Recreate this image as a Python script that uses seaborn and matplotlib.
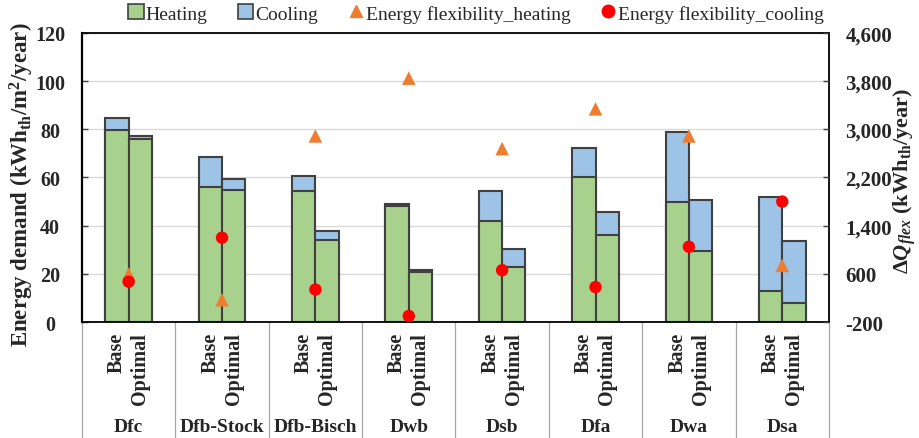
import numpy as np
import pandas as pd
import matplotlib
matplotlib.use("Agg")
import matplotlib.pyplot as plt
from matplotlib.patches import Patch
from matplotlib.lines import Line2D
from matplotlib.ticker import FuncFormatter, FixedLocator
import seaborn as sns

# ---- data -------------------------------------------------------------
groups = ["Dfc", "Dfb-Stock", "Dfb-Bisch", "Dwb", "Dsb", "Dfa", "Dwa", "Dsa"]
scenarios = ["Base", "Optimal"]

heat_base = [79.8, 56.0, 54.5, 48.3, 42.0, 60.0, 49.7, 12.9]
cool_base = [4.8, 12.7, 6.2, 0.5, 12.2, 12.1, 29.3, 39.1]
heat_opt = [75.9, 55.0, 34.2, 20.8, 22.7, 36.1, 29.3, 7.7]
cool_opt = [1.5, 4.2, 3.5, 0.9, 7.6, 9.5, 21.5, 26.0]

flex_heating = [600, 170, 2890, 3850, 2680, 3340, 2890, 740]
flex_cooling = [470, 1200, 340, -100, 660, 380, 1050, 1800]

left_ticks = [0, 20, 40, 60, 80, 100, 120]
right_ticks = [-200, 600, 1400, 2200, 3000, 3800, 4600]

# ---- styling ----------------------------------------------------------
sns.set_theme(style="white")
plt.rcParams["font.family"] = ["Liberation Serif", "DejaVu Serif"]
plt.rcParams["mathtext.fontset"] = "custom"
plt.rcParams["mathtext.rm"] = "Liberation Serif"
plt.rcParams["mathtext.bf"] = "Liberation Serif:bold"
plt.rcParams["mathtext.it"] = "Liberation Serif:italic"
plt.rcParams["mathtext.bfit"] = "Liberation Serif:italic:bold"

GREEN = "#A9D18E"
BLUE = "#9DC3E6"
ORANGE = "#ED7D31"
RED = "#FF0000"
EDGE = "#404040"

df = pd.DataFrame({
    "group": groups * 2,
    "scenario": ["Base"] * len(groups) + ["Optimal"] * len(groups),
    "heating": heat_base + heat_opt,
    "cooling": cool_base + cool_opt,
})
df["total"] = df["heating"] + df["cooling"]

fig = plt.figure(figsize=(9.19, 4.39), dpi=100)
ax = fig.add_axes([0.0892, 0.2642, 0.902 - 0.0892, 0.9226 - 0.2642])

bar_kw = dict(data=df, x="group", hue="scenario", order=groups,
              hue_order=scenarios, width=0.5, gap=0, dodge=True,
              edgecolor=EDGE, linewidth=1.5, legend=False, ax=ax,
              errorbar=None, saturation=1)
# stacked: full height in blue, heating drawn on top in green
sns.barplot(y="total", palette=[BLUE, BLUE], **bar_kw)
sns.barplot(y="heating", palette=[GREEN, GREEN], **bar_kw)

ax.set_xlim(-0.5, len(groups) - 0.5)
ax.set_ylim(0, 120)
ax.yaxis.set_major_locator(FixedLocator(left_ticks))
ax.grid(axis="y", color="#D9D9D9", linewidth=1.0)
ax.set_axisbelow(True)

for s in ax.spines.values():
    s.set_color("black")
    s.set_linewidth(1.3)
ax.spines["left"].set_linewidth(1.6)

# bar-level labels and group separators on the category axis
pos = np.arange(len(groups))
bar_pos = np.sort(np.concatenate([pos - 0.125, pos + 0.125]))
ax.set_xticks(bar_pos)
ax.set_xticklabels(scenarios * len(groups), rotation=90, fontweight="bold",
                   fontsize=14.5, va="top", ha="center")
ax.tick_params(axis="x", which="major", length=0, pad=7)
ax.set_xticks(np.arange(-0.5, len(groups), 1.0), minor=True)
ax.tick_params(axis="x", which="minor", bottom=True, length=88, width=0.9,
               color="#A6A6A6", direction="out")
ax.set_xlabel("")
for i, g in enumerate(groups):
    ax.text(i, -0.36, g, transform=ax.get_xaxis_transform(), ha="center",
            va="center", fontsize=14, fontweight="bold")

ax.tick_params(axis="y", which="major", direction="in", length=4,
               width=1, color=EDGE, left=True, labelsize=14.5, pad=23)
for lab in ax.get_yticklabels():
    lab.set_fontweight("bold")
    lab.set_horizontalalignment("center")
ax.set_ylabel(r"Energy demand (kWh$_{\mathbf{th}}$/m$^{\mathbf{2}}$/year)",
              fontsize=16.5, fontweight="bold")
ax.yaxis.set_label_coords(-0.062, 0.48)

# ---- energy flexibility on the secondary axis -------------------------
ax2 = ax.twinx()
ax2.set_ylim(-200, 4600)
ax2.yaxis.set_major_locator(FixedLocator(right_ticks))
ax2.yaxis.set_major_formatter(FuncFormatter(lambda v, p: f"{v:,.0f}"))
sns.scatterplot(x=pos, y=flex_heating, marker="^", s=95, color=ORANGE,
                edgecolor="none", ax=ax2, zorder=5)
sns.scatterplot(x=pos, y=flex_cooling, marker="o", s=80, color=RED,
                edgecolor="none", ax=ax2, zorder=6)
ax2.set_xlim(-0.5, len(groups) - 0.5)
ax2.grid(False)
for s in ax2.spines.values():
    s.set_visible(False)
ax2.tick_params(axis="y", direction="in", length=4, width=1, color=EDGE,
                right=True, labelsize=15, pad=12)
for lab in ax2.get_yticklabels():
    lab.set_fontweight("bold")
ax2.set_ylabel(r"$\mathbf{\Delta}\mathbfit{Q}_{\mathbfit{flex}}$ (kWh$_{\mathbf{th}}$/year)",
               fontsize=16, fontweight="bold")
ax2.yaxis.set_label_coords(1.084, 0.49)

# ---- legend -----------------------------------------------------------
handles = [
    Patch(facecolor=GREEN, edgecolor=EDGE, linewidth=1.2, label="Heating"),
    Patch(facecolor=BLUE, edgecolor=EDGE, linewidth=1.2, label="Cooling"),
    Line2D([], [], marker="^", linestyle="none", color=ORANGE,
           markersize=9, label="Energy flexibility_heating"),
    Line2D([], [], marker="o", linestyle="none", color=RED,
           markersize=9, label="Energy flexibility_cooling"),
]
fig.legend(handles=handles, loc="center", bbox_to_anchor=(0.518, 0.967),
           ncol=4, frameon=False, fontsize=14, handlelength=0.8,
           handleheight=0.8, handletextpad=0.1, columnspacing=1.55,
           borderaxespad=0)

fig.savefig("out.png", dpi=100)
